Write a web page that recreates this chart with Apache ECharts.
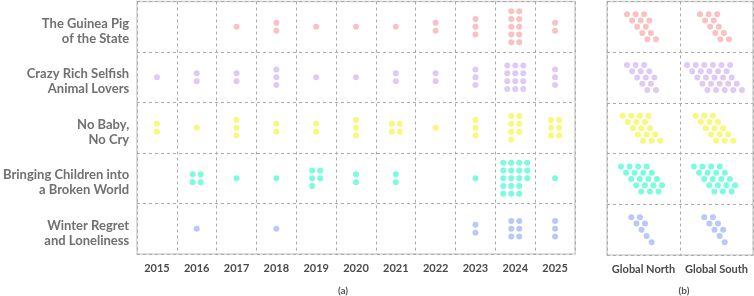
<!DOCTYPE html>
<html>
<head>
<meta charset="utf-8">
<script src="https://cdn.jsdelivr.net/npm/echarts@6/dist/echarts.min.js"></script>
<style>
  html, body { margin: 0; padding: 0; background: #fff; }
  #chart { width: 754px; height: 296px; }
</style>
</head>
<body>
<div id="chart"></div>
<script>
// x categories of panel (a)
const years = ['2015', '2016', '2017', '2018', '2019', '2020', '2021', '2022', '2023', '2024', '2025']
// row labels (top to bottom)
const themes = [
  'The Guinea Pig\nof the State',
  'Crazy Rich Selfish\nAnimal Lovers',
  'No Baby,\nNo Cry',
  'Bringing Children into\na Broken World',
  'Winter Regret\nand Loneliness'
]
const themeColors = ['#F9C1C1', '#DFCAF5', '#FAF77D', '#7DFBE0', '#B8C9F7']

// dots per year, one array per theme
const guineaPig = [0, 0, 1, 2, 1, 1, 1, 2, 3, 10, 2]
const crazyRich = [1, 2, 2, 3, 1, 1, 2, 2, 3, 12, 3]
const noBaby = [2, 1, 3, 2, 2, 3, 4, 1, 3, 7, 6]
const brokenWorld = [0, 4, 1, 1, 5, 2, 2, 0, 1, 18, 1]
const winterRegret = [0, 1, 0, 1, 0, 0, 0, 0, 2, 6, 3]
const yearCounts = [guineaPig, crazyRich, noBaby, brokenWorld, winterRegret]

// panel (b)
const regions = ['Global North', 'Global South']
const globalNorth = [12, 13, 16, 19, 7]
const globalSouth = [11, 26, 15, 19, 8]

const labelFont = 'Lato, "Open Sans", sans-serif'

// stacked dot block centred in a year cell
function yearCell(color) {
  return function (params, api) {
    const n = api.value(2)
    const c = api.coord([api.value(0), api.value(1)])
    const cols = n <= 3 ? 1 : Math.max(2, Math.ceil(n / 5))
    const rows = Math.ceil(n / cols)
    const base = Math.floor(n / rows)
    const extra = n % rows
    const children = []
    for (let r = 0; r < rows; r++) {
      const k = base + (r < extra ? 1 : 0)
      for (let j = 0; j < k; j++) {
        children.push({
          type: 'circle',
          shape: {
            cx: c[0] + (j - (cols - 1) / 2) * 8,
            cy: c[1] + (r - (rows - 1) / 2) * 7.8,
            r: 3
          },
          style: { fill: color }
        })
      }
    }
    return { type: 'group', children }
  }
}

// slanted block of 5 rows for the region panel
function regionCell(color) {
  return function (params, api) {
    const n = api.value(2)
    const c = api.coord([api.value(0), api.value(1)])
    const dx = 8.6, shift = 5.1, dy = 6.25
    const base = Math.floor(n / 5)
    const extra = n % 5
    const pts = []
    for (let r = 0; r < 5; r++) {
      const k = base + (r < extra ? 1 : 0)
      for (let j = 0; j < k; j++) pts.push([j * dx + r * shift, (r - 2) * dy])
    }
    const maxX = Math.max(...pts.map(p => p[0]))
    return {
      type: 'group',
      children: pts.map(p => ({
        type: 'circle',
        shape: { cx: c[0] + p[0] - maxX / 2 - 2, cy: c[1] + p[1], r: 3 },
        style: { fill: color }
      }))
    }
  }
}

const splitStyle = { show: true, lineStyle: { color: '#aaa', type: [3, 3], width: 1 } }

const series = []
yearCounts.forEach((counts, t) => {
  series.push({
    type: 'custom',
    xAxisIndex: 0,
    yAxisIndex: 0,
    renderItem: yearCell(themeColors[t]),
    data: counts.map((v, i) => [i, t, v]).filter(d => d[2] > 0)
  })
  series.push({
    type: 'custom',
    xAxisIndex: 1,
    yAxisIndex: 1,
    renderItem: regionCell(themeColors[t]),
    data: [[0, t, globalNorth[t]], [1, t, globalSouth[t]]]
  })
})

const chart = echarts.init(document.getElementById('chart'))
chart.setOption({
  animation: false,
  grid: [
    { left: 137, top: 1.5, width: 438, height: 252.5, show: true, borderColor: '#d2d2d2', borderWidth: 1.5 },
    { left: 607, top: 1.5, width: 146, height: 253.5, show: true, borderColor: '#d2d2d2', borderWidth: 1.5 },
    // label-only band, sits a few pixels lower than the dot grid
    { left: 137, top: 6, width: 438, height: 252.5 }
  ],
  xAxis: [
    {
      type: 'category', gridIndex: 0, data: years,
      axisLine: { show: false }, axisTick: { show: false },
      axisLabel: { interval: 0, margin: 9, fontFamily: labelFont, fontWeight: 'bold', fontSize: 11, color: '#4a4a4a' },
      splitLine: splitStyle
    },
    {
      type: 'category', gridIndex: 1, data: regions,
      axisLine: { show: false }, axisTick: { show: false },
      axisLabel: { interval: 0, hideOverlap: false, margin: 9, fontFamily: labelFont, fontWeight: 'bold', fontSize: 11, color: '#4a4a4a' },
      splitLine: splitStyle
    },
    { type: 'category', gridIndex: 2, data: years, show: false }
  ],
  yAxis: [
    {
      type: 'category', gridIndex: 0, data: themes, inverse: true,
      axisLine: { show: false }, axisTick: { show: false },
      axisLabel: { show: false },
      splitLine: splitStyle
    },
    {
      type: 'category', gridIndex: 1, data: themes, inverse: true,
      axisLine: { show: false }, axisTick: { show: false },
      axisLabel: { show: false },
      splitLine: splitStyle
    },
    {
      type: 'category', gridIndex: 2, data: themes, inverse: true,
      axisLine: { show: false }, axisTick: { show: false }, splitLine: { show: false },
      axisLabel: { interval: 0, margin: 9, fontFamily: labelFont, fontWeight: 'bold', fontSize: 13, lineHeight: 15, color: '#707070', align: 'right' }
    }
  ],
  graphic: [
    { type: 'text', x: 343, y: 291, style: { text: '(a)', fill: '#555', font: 'bold 10px ' + labelFont, align: 'center', verticalAlign: 'middle' } },
    { type: 'text', x: 684, y: 291, style: { text: '(b)', fill: '#555', font: 'bold 10px ' + labelFont, align: 'center', verticalAlign: 'middle' } }
  ],
  series
})
</script>
</body>
</html>
